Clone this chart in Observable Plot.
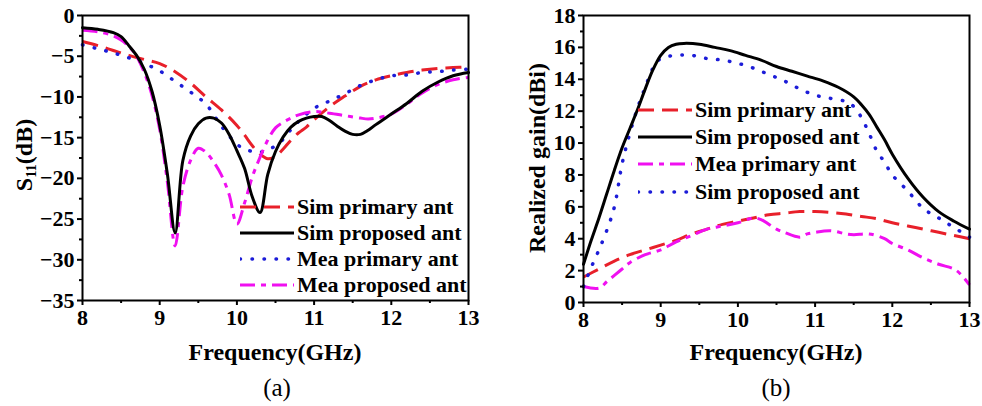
<!DOCTYPE html>
<html><head><meta charset="utf-8">
<script src="https://cdn.jsdelivr.net/npm/d3@7"></script>
<script src="https://cdn.jsdelivr.net/npm/@observablehq/plot@0.6"></script>
<style>
body{margin:0;background:#fff;}
#wrap{position:relative;width:982px;height:406px;overflow:hidden;font-family:"Liberation Serif",serif;color:#000;}
.panel{position:absolute;top:0;width:491px;height:365px;}
.t{position:absolute;white-space:nowrap;font-weight:bold;line-height:1;}
.rot{transform:translate(-50%,-50%) rotate(-90deg);}
.cap{position:absolute;white-space:nowrap;font-size:25px;line-height:1;transform:translate(-50%,-50%);}
.leg{position:absolute;font-weight:bold;font-size:22px;line-height:1;}
.row{position:absolute;left:0;white-space:nowrap;display:flex;align-items:center;transform:translateY(-50%);}
.row svg{display:block;margin-right:3px;}
</style></head><body><div id="wrap"></div><script>
// ---------- ticks ----------
const xTicks = [8, 9, 10, 11, 12, 13];
const xMinor = [8.5, 9.5, 10.5, 11.5, 12.5];
const yTicksA = [0, -5, -10, -15, -20, -25, -30, -35];
const yMinorA = [-2.5, -7.5, -12.5, -17.5, -22.5, -27.5, -32.5];
const yTicksB = [0, 2, 4, 6, 8, 10, 12, 14, 16, 18];
const yMinorB = [1, 3, 5, 7, 9, 11, 13, 15, 17];

// ---------- Panel (a): S11 (dB) ----------
const simPrimA_f = [8.0,8.2,8.4,8.6,8.8,9.0,9.2,9.4,9.6,9.8,10.0,10.1,10.2,10.3,10.4,10.5,10.6,10.7,10.8,10.9,11.0,11.2,11.4,11.6,11.8,12.0,12.2,12.4,12.6,12.8,13.0];
const simPrimA_v = [-3.2,-3.7,-4.3,-4.9,-5.4,-5.9,-6.9,-8.3,-10.0,-11.6,-13.5,-14.7,-16.0,-17.0,-17.6,-17.3,-16.4,-15.3,-14.4,-13.7,-12.8,-11.2,-9.9,-8.7,-7.9,-7.4,-7.0,-6.7,-6.5,-6.4,-6.3];

const simPropA_f = [8.0,8.2,8.4,8.5,8.6,8.7,8.8,8.9,9.0,9.1,9.2,9.3,9.4,9.5,9.6,9.7,9.8,9.9,10.0,10.1,10.2,10.3,10.4,10.5,10.6,10.7,10.8,10.9,11.0,11.1,11.2,11.3,11.4,11.5,11.6,11.7,11.8,12.0,12.2,12.4,12.6,12.8,13.0];
const simPropA_v = [-1.5,-1.7,-2.1,-2.6,-3.7,-4.9,-6.6,-9.3,-13.5,-19.5,-26.7,-17.8,-14.8,-13.3,-12.6,-12.6,-13.2,-14.6,-16.6,-18.8,-22.3,-24.2,-19.5,-16.7,-14.9,-13.7,-13.0,-12.6,-12.4,-12.4,-12.9,-13.6,-14.2,-14.6,-14.6,-14.1,-13.4,-12.1,-10.8,-9.3,-8.2,-7.4,-7.0];

const meaPrimA_f = [8.0,8.2,8.4,8.6,8.8,9.0,9.2,9.4,9.6,9.8,10.0,10.1,10.2,10.3,10.4,10.5,10.6,10.7,10.8,11.0,11.2,11.4,11.6,11.8,12.0,12.2,12.4,12.6,12.8,13.0];
const meaPrimA_v = [-3.6,-4.1,-4.6,-5.2,-5.9,-6.8,-8.1,-9.4,-10.9,-13.6,-15.8,-16.4,-16.7,-16.8,-16.5,-16.0,-15.2,-14.0,-13.0,-11.4,-10.5,-9.6,-8.6,-7.9,-7.4,-7.3,-7.0,-6.9,-6.7,-6.6];

const meaPropA_f = [8.0,8.2,8.4,8.5,8.6,8.7,8.8,8.9,9.0,9.1,9.2,9.3,9.4,9.5,9.6,9.7,9.8,9.9,10.0,10.1,10.2,10.3,10.4,10.5,10.6,10.7,10.8,11.0,11.2,11.4,11.6,11.7,11.8,12.0,12.2,12.4,12.6,12.8,13.0];
const meaPropA_v = [-1.8,-2.0,-2.5,-3.0,-3.8,-5.0,-7.0,-9.8,-14.0,-20.5,-28.3,-21.0,-17.8,-16.3,-16.8,-18.0,-19.6,-22.0,-25.6,-23.0,-19.8,-17.4,-15.3,-13.8,-13.1,-12.6,-12.2,-11.8,-12.0,-12.3,-12.6,-12.7,-12.6,-12.1,-10.9,-9.5,-8.5,-7.9,-7.6];

// ---------- Panel (b): Realized gain (dBi) ----------
const simPrimB_f = [8.0,8.2,8.4,8.6,8.8,9.0,9.2,9.4,9.6,9.8,10.0,10.2,10.4,10.6,10.8,11.0,11.2,11.4,11.6,11.8,12.0,12.2,12.4,12.6,12.8,13.0];
const simPrimB_v = [1.6,2.1,2.6,3.0,3.3,3.6,3.9,4.3,4.6,4.9,5.1,5.3,5.5,5.6,5.7,5.7,5.65,5.55,5.4,5.25,5.0,4.8,4.6,4.4,4.2,4.0];

const simPropB_f = [8.0,8.1,8.2,8.3,8.4,8.5,8.6,8.7,8.8,8.9,9.0,9.1,9.2,9.3,9.5,9.7,9.9,10.1,10.3,10.5,10.7,10.9,11.1,11.3,11.5,11.6,11.7,11.8,11.9,12.0,12.2,12.4,12.6,12.8,13.0];
const simPropB_v = [2.4,3.9,5.3,6.8,8.3,9.7,10.9,12.1,13.4,14.6,15.5,16.0,16.2,16.25,16.2,16.0,15.8,15.5,15.2,14.8,14.5,14.2,13.9,13.5,12.9,12.4,11.8,11.0,10.2,9.3,7.8,6.6,5.7,5.1,4.6];

const meaPrimB_f = [8.0,8.2,8.3,8.4,8.5,8.6,8.8,9.0,9.2,9.4,9.6,9.8,10.0,10.2,10.3,10.5,10.6,10.8,10.9,11.0,11.2,11.4,11.5,11.7,11.9,12.0,12.2,12.4,12.6,12.8,12.9,13.0];
const meaPrimB_v = [1.0,0.9,1.3,1.7,2.1,2.5,3.0,3.3,3.8,4.2,4.6,4.8,5.0,5.3,5.2,4.6,4.4,4.1,4.3,4.4,4.5,4.3,4.25,4.3,4.0,3.7,3.3,2.8,2.4,2.1,1.7,1.1];

const simProp2B_f = [8.0,8.1,8.2,8.3,8.4,8.5,8.6,8.7,8.8,8.9,9.0,9.2,9.4,9.6,9.8,10.0,10.2,10.4,10.6,10.8,11.0,11.2,11.4,11.5,11.6,11.7,11.8,11.9,12.0,12.2,12.4,12.6,12.8,13.0];
const simProp2B_v = [1.0,2.2,3.3,4.5,6.0,8.7,10.6,12.2,13.5,14.7,15.3,15.5,15.5,15.3,15.2,15.0,14.7,14.3,13.9,13.4,13.0,12.8,12.6,12.3,11.6,10.6,9.5,8.8,8.0,7.0,5.9,5.3,4.7,4.1];

const legendA = ["Sim primary ant", "Sim proposed ant", "Mea primary ant", "Mea proposed ant"];
const legendB = ["Sim primary ant", "Sim proposed ant", "Mea primary ant", "Sim proposed ant"];

// styles
const RED = "#e8202a", BLK = "#000000", BLU = "#1c1cd8", MAG = "#f010f0";
const sty = {
  dash:    {stroke: RED, strokeWidth: 3, strokeDasharray: "16,8", strokeLinecap: "butt"},
  solid:   {stroke: BLK, strokeWidth: 3},
  dot:     {stroke: BLU, strokeWidth: 3.5, strokeDasharray: "0.5,11.5", strokeLinecap: "round"},
  dashdot: {stroke: MAG, strokeWidth: 3, strokeDasharray: "15,6,5,6", strokeLinecap: "butt"}
};

const pts = (fs, vs) => fs.map((f, i) => ({f, v: vs[i]}));
const line = (fs, vs, s) => Plot.line(pts(fs, vs), {x: "f", y: "v", curve: "catmull-rom", ...s});

function makePlot({ml, mr, mb, yDomain, yTicks, yMinor, series}) {
  return Plot.plot({
    width: 491, height: 365,
    marginLeft: ml, marginRight: mr, marginTop: 15, marginBottom: mb,
    x: {domain: [8, 13]},
    y: {domain: yDomain},
    style: {fontFamily: "'Liberation Serif', serif", fontSize: "22px", fontWeight: "bold", color: "#000", background: "transparent", overflow: "visible"},
    marks: [
      ...series,
      Plot.axisX({ticks: xTicks, tickFormat: d => String(d), tickSize: 5, tickPadding: 4, label: null, strokeWidth: 2}),
      Plot.axisX({ticks: xMinor, tickSize: 3, text: null, label: null, strokeWidth: 2}),
      Plot.axisY({ticks: yTicks, tickSize: 5, tickPadding: 3, label: null, strokeWidth: 2}),
      Plot.axisY({ticks: yMinor, tickSize: 3, text: null, label: null, strokeWidth: 2}),
      Plot.frame({stroke: "#000", strokeWidth: 2})
    ]
  });
}

const plotA = makePlot({
  ml: 82, mr: 23, mb: 65, yDomain: [-35, 0], yTicks: yTicksA, yMinor: yMinorA,
  series: [
    line(simPrimA_f, simPrimA_v, sty.dash),
    line(meaPrimA_f, meaPrimA_v, sty.dot),
    line(meaPropA_f, meaPropA_v, sty.dashdot),
    line(simPropA_f, simPropA_v, sty.solid)
  ]
});
const plotB = makePlot({
  ml: 92, mr: 13, mb: 63, yDomain: [0, 18], yTicks: yTicksB, yMinor: yMinorB,
  series: [
    line(simPrimB_f, simPrimB_v, sty.dash),
    line(meaPrimB_f, meaPrimB_v, sty.dashdot),
    line(simProp2B_f, simProp2B_v, sty.dot),
    line(simPropB_f, simPropB_v, sty.solid)
  ]
});

const wrap = document.getElementById("wrap");
function addPanel(left, plot) {
  const d = document.createElement("div");
  d.className = "panel"; d.style.left = left + "px";
  d.appendChild(plot); wrap.appendChild(d);
}
addPanel(0, plotA);
addPanel(491, plotB);

function addText(cls, html, x, y, size) {
  const d = document.createElement("div");
  d.className = cls; d.innerHTML = html;
  d.style.left = x + "px"; d.style.top = y + "px";
  if (size) d.style.fontSize = size + "px";
  wrap.appendChild(d);
  return d;
}
// axis titles
addText("t", "Frequency(GHz)", 275, 352, 24).style.transform = "translate(-50%,-50%)";
addText("t", "Frequency(GHz)", 776, 352, 24).style.transform = "translate(-50%,-50%)";
addText("t rot", "S<sub style='font-size:0.6em;vertical-align:-0.25em'>11</sub>(dB)", 25, 155, 24);
addText("t rot", "Realized gain(dBi)", 537, 158, 24);
// captions
addText("cap", "(a)", 277, 387);
addText("cap", "(b)", 776, 387);

// legends
function addLegend(x, ys, labels, styles) {
  const g = document.createElement("div");
  g.className = "leg"; g.style.left = x + "px"; g.style.top = "0px";
  labels.forEach((lab, i) => {
    const s = styles[i];
    const r = document.createElement("div");
    r.className = "row"; r.style.top = ys[i] + "px";
    r.innerHTML = `<svg width="54" height="8"><line x1="0" y1="4" x2="54" y2="4" stroke="${s.stroke}" stroke-width="${s.strokeWidth}" stroke-dasharray="${s.strokeDasharray || "none"}" stroke-linecap="${s.strokeLinecap || "butt"}"/></svg><span>${lab}</span>`;
    g.appendChild(r);
  });
  wrap.appendChild(g);
}
addLegend(240, [207, 233, 259, 285], legendA, [sty.dash, sty.solid, sty.dot, sty.dashdot]);
addLegend(638, [110, 137, 164, 192], legendB, [sty.dash, sty.solid, sty.dashdot, sty.dot]);
</script></body></html>
